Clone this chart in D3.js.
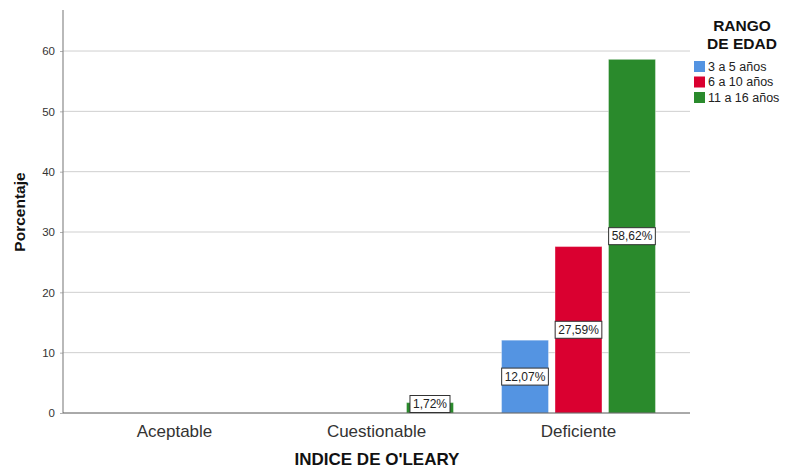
<!DOCTYPE html>
<html>
<head>
<meta charset="utf-8">
<script src="https://cdn.jsdelivr.net/npm/d3@7/dist/d3.min.js"></script>
<style>
  html, body { margin: 0; padding: 0; background: #fff; }
  svg { display: block; font-family: "Liberation Sans", Arial, sans-serif; }
</style>
</head>
<body>
<svg id="chart" width="794" height="468"></svg>
<script>
// O'Leary index by age group (percent)
const categories = ["Aceptable", "Cuestionable", "Deficiente"];
const series = ["3 a 5 años", "6 a 10 años", "11 a 16 años"];
const values = [
  [null, null, null],     // Aceptable
  [null, null, 1.72],     // Cuestionable
  [12.07, 27.59, 58.62]   // Deficiente
];
const yTicks = [0, 10, 20, 30, 40, 50, 60];
const colors = ["#5494E2", "#DA0030", "#2A8A2C"];

const svg = d3.select("#chart");
const plot = { left: 63, right: 690, top: 10, bottom: 413 };

const x = d3.scaleBand()
  .domain(categories)
  .range([plot.left, plot.right])
  .paddingInner(0.238)
  .paddingOuter(0.171);

const xs = d3.scaleBand()
  .domain(series)
  .range([0, x.bandwidth()])
  .paddingInner(0.122);

const y = d3.scaleLinear()
  .domain([0, 66.8])
  .range([plot.bottom, plot.top]);

// horizontal gridlines
svg.append("g")
  .selectAll("line")
  .data(yTicks.filter(d => d > 0))
  .join("line")
  .attr("x1", plot.left).attr("x2", plot.right)
  .attr("y1", d => y(d)).attr("y2", d => y(d))
  .attr("stroke", "#cfcfcf").attr("stroke-width", 1);

// y axis
const yAxis = svg.append("g")
  .attr("transform", `translate(${plot.left},0)`)
  .call(d3.axisLeft(y).tickValues(yTicks).tickSize(3).tickPadding(5).tickFormat(d3.format("d")));
yAxis.select(".domain").remove();
yAxis.selectAll(".tick line").attr("stroke", "#b0b0b0");
yAxis.selectAll(".tick text")
  .attr("fill", "#333").style("font-size", "11.5px")
  .style("font-family", "'Liberation Sans', Arial, sans-serif");
yAxis.append("line")
  .attr("x1", 0).attr("x2", 0)
  .attr("y1", plot.top).attr("y2", plot.bottom)
  .attr("stroke", "#8a8a8a").attr("stroke-width", 1.2);

// bars
const rows = [];
categories.forEach((c, i) => {
  series.forEach((s, j) => {
    if (values[i][j] != null) rows.push({ cat: c, ser: s, j, v: values[i][j] });
  });
});

const bars = svg.append("g");
bars.selectAll("rect")
  .data(rows)
  .join("rect")
  .attr("x", d => x(d.cat) + xs(d.ser))
  .attr("width", xs.bandwidth())
  .attr("y", d => y(d.v))
  .attr("height", d => y(0) - y(d.v))
  .attr("fill", d => colors[d.j])
  .attr("stroke", "#ffffff").attr("stroke-opacity", 0.35).attr("stroke-width", 1);

// x axis baseline
svg.append("line")
  .attr("x1", plot.left).attr("x2", plot.right)
  .attr("y1", plot.bottom).attr("y2", plot.bottom)
  .attr("stroke", "#555").attr("stroke-width", 1);

// value labels in boxes
const fmt = v => v.toFixed(2).replace(".", ",") + "%";
const boxH = 17;
const labels = svg.append("g");
rows.forEach(d => {
  const cx = x(d.cat) + xs(d.ser) + xs.bandwidth() / 2;
  let cy = (y(d.v) + y(0)) / 2;
  cy = Math.min(cy, y(0) - boxH / 2 - 0.5);
  const g = labels.append("g");
  const rect = g.append("rect");
  const t = g.append("text")
    .attr("x", cx).attr("y", cy)
    .attr("text-anchor", "middle").attr("dominant-baseline", "central")
    .attr("fill", "#222").style("font-size", "12px")
    .text(fmt(d.v));
  const w = t.node().getComputedTextLength() + 6;
  rect.attr("x", cx - w / 2).attr("y", cy - boxH / 2)
    .attr("width", w).attr("height", boxH)
    .attr("fill", "#fff").attr("stroke", "#333").attr("stroke-width", 1);
});

// category labels
svg.append("g")
  .selectAll("text")
  .data(categories)
  .join("text")
  .attr("x", d => x(d) + x.bandwidth() / 2)
  .attr("y", 437)
  .attr("text-anchor", "middle")
  .attr("fill", "#333").style("font-size", "17px")
  .text(d => d);

// axis titles
svg.append("text")
  .attr("x", 377).attr("y", 465)
  .attr("text-anchor", "middle")
  .attr("font-weight", "bold").style("font-size", "17px").attr("fill", "#111")
  .text("INDICE DE O'LEARY");

svg.append("text")
  .attr("transform", "translate(25,212) rotate(-90)")
  .attr("text-anchor", "middle")
  .attr("font-weight", "bold").style("font-size", "15.5px").attr("fill", "#111")
  .text("Porcentaje");

// legend
const legend = svg.append("g");
legend.append("text")
  .attr("x", 742).attr("y", 31)
  .attr("text-anchor", "middle").attr("font-weight", "bold")
  .style("font-size", "15.5px").attr("fill", "#111")
  .text("RANGO");
legend.append("text")
  .attr("x", 742).attr("y", 49)
  .attr("text-anchor", "middle").attr("font-weight", "bold")
  .style("font-size", "15.5px").attr("fill", "#111")
  .text("DE EDAD");

const items = legend.selectAll("g.item")
  .data(series)
  .join("g")
  .attr("class", "item")
  .attr("transform", (d, i) => `translate(694,${61 + i * 15.5})`);
items.append("rect")
  .attr("width", 11).attr("height", 11)
  .attr("fill", (d, i) => colors[i]);
items.append("text")
  .attr("x", 14).attr("y", 5.5)
  .attr("dominant-baseline", "central")
  .style("font-size", "12.5px").attr("fill", "#222")
  .text(d => d);
</script>
</body>
</html>
